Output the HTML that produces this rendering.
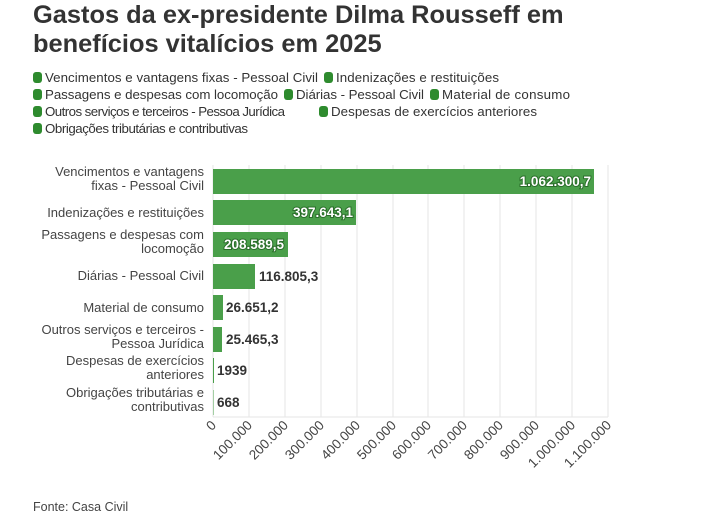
<!DOCTYPE html>
<html><head><meta charset="utf-8"><style>
body{margin:0;background:#fff;width:711px;height:516px;overflow:hidden;font-family:"Liberation Sans",sans-serif}
</style></head><body>
<svg width="711" height="516" xmlns="http://www.w3.org/2000/svg" font-family="Liberation Sans, sans-serif">
<text x="33" y="23" font-size="25.4" font-weight="bold" fill="#333">Gastos da ex-presidente Dilma Rousseff em</text>
<text x="33" y="52" font-size="25.4" font-weight="bold" fill="#333">benefícios vitalícios em 2025</text>
<g font-size="13.3" fill="#333">
<rect x="33" y="72" width="9" height="11" rx="3" fill="#2e8b2e"/><text x="45" y="82" textLength="273">Vencimentos e vantagens fixas - Pessoal Civil</text>
<rect x="324" y="72" width="9" height="11" rx="3" fill="#2e8b2e"/><text x="336" y="82" textLength="163">Indenizações e restituições</text>
<rect x="33" y="89" width="9" height="11" rx="3" fill="#2e8b2e"/><text x="45" y="99" textLength="233">Passagens e despesas com locomoção</text>
<rect x="284" y="89" width="9" height="11" rx="3" fill="#2e8b2e"/><text x="296" y="99" textLength="128">Diárias - Pessoal Civil</text>
<rect x="430" y="89" width="9" height="11" rx="3" fill="#2e8b2e"/><text x="442" y="99" textLength="128">Material de consumo</text>
<rect x="33" y="106" width="9" height="11" rx="3" fill="#2e8b2e"/><text x="45" y="116" textLength="240">Outros serviços e terceiros - Pessoa Jurídica</text>
<rect x="319" y="106" width="9" height="11" rx="3" fill="#2e8b2e"/><text x="331" y="116" textLength="206">Despesas de exercícios anteriores</text>
<rect x="33" y="123" width="9" height="11" rx="3" fill="#2e8b2e"/><text x="45" y="133" textLength="203">Obrigações tributárias e contributivas</text>
</g>
<g stroke="#e6e6e6" stroke-width="1">
<line x1="213" y1="165" x2="213" y2="417"/><line x1="249" y1="165" x2="249" y2="417"/><line x1="285" y1="165" x2="285" y2="417"/><line x1="321" y1="165" x2="321" y2="417"/><line x1="357" y1="165" x2="357" y2="417"/><line x1="393" y1="165" x2="393" y2="417"/><line x1="428" y1="165" x2="428" y2="417"/><line x1="464" y1="165" x2="464" y2="417"/><line x1="500" y1="165" x2="500" y2="417"/><line x1="536" y1="165" x2="536" y2="417"/><line x1="572" y1="165" x2="572" y2="417"/><line x1="608" y1="165" x2="608" y2="417"/>
<line x1="213" y1="417" x2="608" y2="417"/>
</g>
<g fill="#4a9f4a">
<rect x="213" y="169" width="381" height="25"/>
<rect x="213" y="200" width="143" height="25"/>
<rect x="213" y="232" width="75" height="25"/>
<rect x="213" y="264" width="42" height="25"/>
<rect x="213" y="295" width="10" height="25"/>
<rect x="213" y="327" width="9" height="25"/>
<rect x="213" y="358" width="1" height="25"/>
<rect x="213" y="390" width="0.5" height="25"/>
</g>
<g font-size="13.5" font-weight="bold">
<text x="591" y="186" text-anchor="end" fill="#fff" stroke="#2a6e2a" stroke-width="2" paint-order="stroke">1.062.300,7</text>
<text x="353" y="217" text-anchor="end" fill="#fff" stroke="#2a6e2a" stroke-width="2" paint-order="stroke">397.643,1</text>
<text x="284" y="249" text-anchor="end" fill="#fff" stroke="#2a6e2a" stroke-width="2" paint-order="stroke">208.589,5</text>
<g fill="#333"><text x="259" y="281">116.805,3</text><text x="226" y="312">26.651,2</text><text x="226" y="344">25.465,3</text><text x="217" y="375">1939</text><text x="217" y="407">668</text></g>
</g>
<g font-size="13" fill="#444" text-anchor="end">
<text x="204" y="176">Vencimentos e vantagens</text><text x="204" y="190">fixas - Pessoal Civil</text>
<text x="204" y="217">Indenizações e restituições</text>
<text x="204" y="239">Passagens e despesas com</text><text x="204" y="253">locomoção</text>
<text x="204" y="280">Diárias - Pessoal Civil</text>
<text x="204" y="312">Material de consumo</text>
<text x="204" y="334">Outros serviços e terceiros -</text><text x="204" y="348">Pessoa Jurídica</text>
<text x="204" y="365">Despesas de exercícios</text><text x="204" y="379">anteriores</text>
<text x="204" y="397">Obrigações tributárias e</text><text x="204" y="411">contributivas</text>
</g>
<g font-size="13.5" fill="#444" text-anchor="end">
<text transform="translate(217,426) rotate(-45)">0</text>
<text transform="translate(253,426) rotate(-45)">100.000</text>
<text transform="translate(289,426) rotate(-45)">200.000</text>
<text transform="translate(325,426) rotate(-45)">300.000</text>
<text transform="translate(361,426) rotate(-45)">400.000</text>
<text transform="translate(397,426) rotate(-45)">500.000</text>
<text transform="translate(432,426) rotate(-45)">600.000</text>
<text transform="translate(468,426) rotate(-45)">700.000</text>
<text transform="translate(504,426) rotate(-45)">800.000</text>
<text transform="translate(540,426) rotate(-45)">900.000</text>
<text transform="translate(576,426) rotate(-45)">1.000.000</text>
<text transform="translate(612,426) rotate(-45)">1.100.000</text>
</g>
<text x="33" y="511" font-size="12.5" fill="#444">Fonte: Casa Civil</text>
</svg>
</body></html>
